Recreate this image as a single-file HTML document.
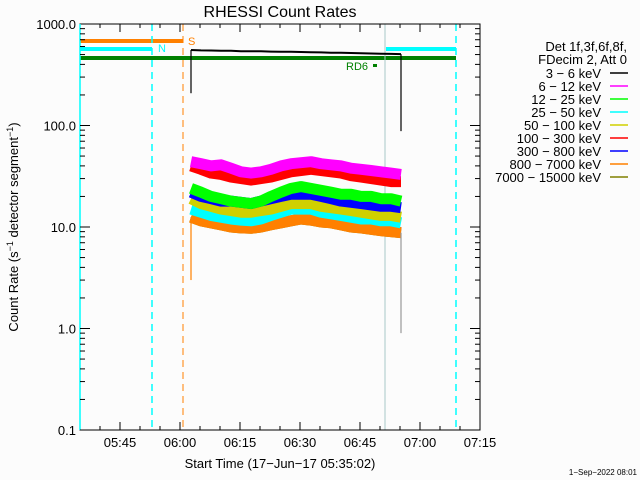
<!DOCTYPE html>
<html><head><meta charset="utf-8"><style>
html,body{margin:0;padding:0;background:#fcfcfc;}
svg{display:block;font-family:"Liberation Sans",sans-serif;}
</style></head><body>
<svg id="chart" width="640" height="480" viewBox="0 0 640 480">
<rect x="0" y="0" width="640" height="480" fill="#fcfcfc"/>
<text x="280" y="17" font-size="16" text-anchor="middle">RHESSI Count Rates</text>
<g id="axes"></g>
<g id="series"></g>
<g id="legend"></g>
<text x="18" y="227" font-size="13" text-anchor="middle" transform="rotate(-90 18 227)">Count Rate (s<tspan dy="-5" font-size="9">−1</tspan><tspan dy="5"> detector segment</tspan><tspan dy="-5" font-size="9">−1</tspan><tspan dy="5">)</tspan></text>
<text x="280" y="468" font-size="13" text-anchor="middle">Start Time (17−Jun−17 05:35:02)</text>
<text x="637" y="475" font-size="8" text-anchor="end">1−Sep−2022 08:01</text>
</svg>
<script>
// time in minutes after 05:35
const times = [27.75,30.25,32.75,35.25,37.75,40.25,42.75,45.25,47.75,50.25,52.75,55.25,57.75,60.25,62.75,65.25,67.75,70.25,72.75,75.25,77.75,80.25];
const seriesNames = ["7000 − 15000 keV","800 − 7000 keV","300 − 800 keV","100 − 300 keV","50 − 100 keV","25 − 50 keV","12 − 25 keV","6 − 12 keV","3 − 6 keV"];
const olive = [12.5,11.5,11,10.5,10,9.8,9.7,10,10.5,11,11.5,12,11.7,11.2,11,10.5,10,9.8,9.5,9.2,9,8.8];
const orange = [12.5,11.5,11,10.5,10,9.8,9.7,10,10.5,11,11.5,12,11.7,11.2,11,10.5,10,9.8,9.5,9.2,9,8.8];
const cyan = [15,14,13,12.5,12,11.7,11.5,12,13,14,15,15,15,14,13.5,13,12.5,12,12,11.5,11.5,11];
const yellow = [19,17,16,15,14.5,14,14,14.5,15,16,17,17,17,16,15.5,15,14.5,14,13.5,13,13,12.5];
const blue = [22,20,19,18,18,17.5,17,18,19,20,21,21,21,20,19,18,17.5,17,16.5,16,16,15.5];
const green = [24,22,20,19,18,17.5,17,18,20,22,24,25,24,23,22,21,21,20,20,19,19,18];
const red = [40,37,34,33,31,30,29,30,31,33,35,36,37,36,35,34,32,31,30,29,28,28];
const magenta = [44,42,40,41,38,35,34,35,37,40,42,43,44,42,41,40,38,37,36,35,34,33];
const black = [555,550,548,545,545,540,540,538,535,533,532,530,528,525,522,520,518,515,512,510,508,505];
const xTickLabels = ["05:45","06:00","06:15","06:30","06:45","07:00","07:15"];
const xTickMinutes = [10,25,40,55,70,85,100];
const yTickValues = [0.1,1,10,100,1000];
const yTickLabels = ["0.1","1.0","10.0","100.0","1000.0"];

const NS="http://www.w3.org/2000/svg";
const L=80,R=480,T=24,B=430;
function xs(m){return L+(m/100)*(R-L);}
function ys(v){return T+(3-Math.log10(v))*(B-T)/4;}
function mk(tag,attrs,parent){const e=document.createElementNS(NS,tag);for(const k in attrs)e.setAttribute(k,attrs[k]);parent.appendChild(e);return e;}
const axes=document.getElementById('axes'), sg=document.getElementById('series'), lg=document.getElementById('legend');

let e;
e=mk('line',{x1:80,y1:41,x2:183,y2:41,stroke:'#ff8000','stroke-width':4},axes);

e=mk('text',{x:188,y:45,'font-size':11,fill:'#ff8000'},axes);e.textContent='S';

e=mk('line',{x1:80,y1:49,x2:152,y2:49,stroke:'#00ffff','stroke-width':4},axes);

e=mk('line',{x1:386,y1:49,x2:456,y2:49,stroke:'#00ffff','stroke-width':4},axes);

e=mk('text',{x:158,y:52,'font-size':11,fill:'#00ffff'},axes);e.textContent='N';

e=mk('line',{x1:80,y1:58,x2:456,y2:58,stroke:'#008000','stroke-width':4},axes);

e=mk('text',{x:346,y:70,'font-size':11,fill:'#008000'},axes);e.textContent='RD6';

e=mk('rect',{x:373,y:64,width:4,height:3,fill:'#008000'},axes);

e=mk('line',{x1:152,y1:24,x2:152,y2:430,stroke:'#00ffff','stroke-width':1.5,'stroke-dasharray':'7,5'},axes);

e=mk('line',{x1:456,y1:24,x2:456,y2:430,stroke:'#00ffff','stroke-width':1.5,'stroke-dasharray':'7,5'},axes);

e=mk('line',{x1:183,y1:24,x2:183,y2:430,stroke:'#ff8000','stroke-width':1,'stroke-dasharray':'7,5'},axes);

e=mk('line',{x1:385,y1:24,x2:385,y2:430,stroke:'#a8c8c8','stroke-width':1},axes);


const draws=[olive,orange,cyan,yellow,blue,green,red,magenta,black];
const dcols=['#808000','#ff8000','#00ffff','#d0d000','#0000ff','#00ff00','#ff0000','#ff00ff','#000000'];
const dnames=['series-7000-15000','series-800-7000','series-25-50','series-50-100','series-300-800','series-12-25','series-100-300','series-6-12','series-3-6'];
for(let s=0;s<draws.length;s++){
  const pts=times.map((t,i)=>xs(t).toFixed(1)+','+ys(draws[s][i]).toFixed(1)).join(' ');
  const w = s==8?2:11;
  const p=mk('polyline',{points:pts,fill:'none',stroke:dcols[s],'stroke-width':w,'stroke-linejoin':'round'},sg);
  
  
}
e=mk('line',{x1:xs(times[0]),y1:ys(black[0]),x2:xs(times[0]),y2:ys(208),stroke:'#000','stroke-width':1.2},sg);

e=mk('line',{x1:xs(times[21]),y1:ys(black[21]),x2:xs(times[21]),y2:ys(88),stroke:'#000','stroke-width':1.2},sg);

e=mk('line',{x1:xs(times[0]),y1:ys(orange[0]),x2:xs(times[0]),y2:ys(3),stroke:'#ff8000','stroke-width':1.2},sg);

e=mk('line',{x1:xs(times[21]),y1:ys(orange[21]),x2:xs(times[21]),y2:ys(0.9),stroke:'#999','stroke-width':1.2},sg);


e=mk('rect',{x:L,y:T,width:R-L,height:B-T,fill:'none',stroke:'#000','stroke-width':1},axes);

e=mk('line',{x1:80,y1:24,x2:80,y2:430,stroke:'#00ffff','stroke-width':1.5},axes);

for(let m=5;m<100;m+=5){
  const major=(m-10)%15===0; const len=major?8:4;
  mk('line',{x1:xs(m),y1:B,x2:xs(m),y2:B-len,stroke:'#000'},axes);
  mk('line',{x1:xs(m),y1:T,x2:xs(m),y2:T+len,stroke:'#000'},axes);
}
xTickMinutes.forEach((m,i)=>{
  const t=mk('text',{x:xs(m),y:447,'font-size':13,'text-anchor':'middle'},axes);t.textContent=xTickLabels[i];
  
});
for(let d=-1;d<3;d++){for(let k=1;k<10;k++){
  const v=k*Math.pow(10,d); const len=k===1?10:5;
  mk('line',{x1:L,y1:ys(v),x2:L+len,y2:ys(v),stroke:'#000'},axes);
  mk('line',{x1:R,y1:ys(v),x2:R-len,y2:ys(v),stroke:'#000'},axes);
}}
yTickValues.forEach((v,i)=>{
  const t=mk('text',{x:76,y:ys(v)+5,'font-size':13,'text-anchor':'end'},axes);t.textContent=yTickLabels[i];
  
});
const lt=["Det 1f,3f,6f,8f,","FDecim 2, Att 0"];
lt.forEach((s,i)=>{const t=mk('text',{x:627,y:51+i*13,'font-size':13,'text-anchor':'end'},lg);t.textContent=s;
  });
const legNames=["3 − 6 keV","6 − 12 keV","12 − 25 keV","25 − 50 keV","50 − 100 keV","100 − 300 keV","300 − 800 keV","800 − 7000 keV","7000 − 15000 keV"];
const legCols=['#000000','#ff00ff','#00ff00','#00ffff','#d0d000','#ff0000','#0000ff','#ff8000','#808000'];
legNames.forEach((s,i)=>{
  const y=73+i*13;
  const t=mk('text',{x:601,y:y+5,'font-size':13,'text-anchor':'end'},lg);t.textContent=s;
  
  const l=mk('line',{x1:610,y1:y,x2:628,y2:y,stroke:legCols[i],'stroke-width':1.5},lg);
  
});
</script>
</body></html>
